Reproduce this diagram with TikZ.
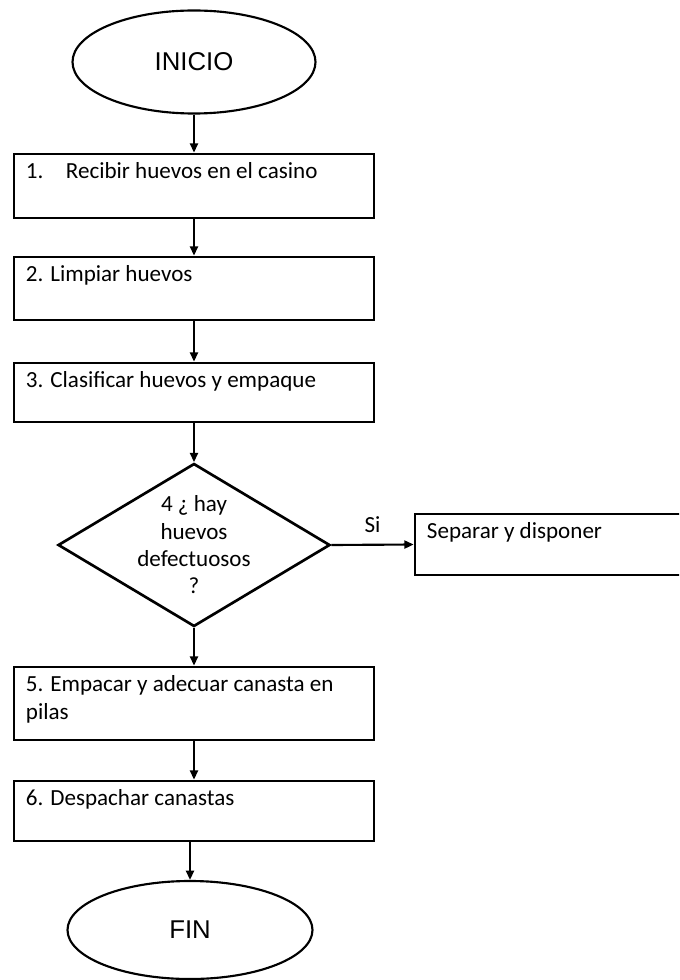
\documentclass[tikz,border=0pt]{standalone}
\usepackage{fontspec}
\setmainfont{Carlito}
\newfontfamily\arialfont{Liberation Sans}
\usetikzlibrary{arrows.meta,positioning,shapes.geometric}

\tikzset{
  paso/.style={draw, line width=2pt, minimum width=270pt, inner sep=0pt},
  txt/.style={anchor=north west, inner xsep=9.75pt, inner ysep=7.5pt, align=left},
  terminal/.style={draw, ellipse, line width=1.6pt, inner sep=0pt,
    font=\arialfont\fontsize{19.3}{23}\selectfont},
  flecha/.style={line width=1.6pt, -{Triangle[length=7pt,width=6pt]}},
}

\begin{document}
\begin{tikzpicture}[x=0.75pt, y=-0.75pt, font=\fontsize{17.3}{20.5}\selectfont]
  \clip (0,0) rectangle (679,980);
  % inicio
  \node[terminal, minimum width=182.25pt, minimum height=77.25pt] (ini) at (194,62) {INICIO};
  % pasos del proceso
  \node[paso, minimum height=48pt,
    label={[txt]north west:{\makebox[30pt][l]{1.}Recibir huevos en el casino}}] (p1) at (194,186) {};
  \node[paso, minimum height=47.25pt,
    label={[txt]north west:{2. Limpiar huevos}}] (p2) at (194,288.5) {};
  \node[paso, minimum height=44.25pt,
    label={[txt]north west:{3. Clasificar huevos y empaque}}] (p3) at (194,392.5) {};
  % decision
  \node[draw, diamond, line width=2pt, minimum width=204pt, minimum height=122.25pt, inner sep=0pt,
    label={[align=center]center:{4 ¿ hay\\huevos\\defectuosos\\?}}] (d4) at (194,545) {};
  \node[paso, minimum width=206.25pt, minimum height=45.75pt,
    label={[txt]north west:{Separar y disponer}}] (sep) at (552.5,544.5) {};
  \node[paso, minimum height=54.75pt,
    label={[txt]north west:{5. Empacar y adecuar canasta en\\pilas}}] (p5) at (194,703.5) {};
  \node[paso, minimum height=45pt,
    label={[txt]north west:{6. Despachar canastas}}] (p6) at (194,811) {};
  % fin
  \node[terminal, minimum width=183.75pt, minimum height=73.5pt] (fin) at (190,930) {FIN};

  \draw[flecha] (ini.south) -- (ini.south |- p1.north);
  \draw[flecha] (p1) -- (p2);
  \draw[flecha] (p2) -- (p3);
  \draw[flecha] (p3) -- (d4);
  \draw[flecha] (d4.east) -- node[above, yshift=5pt] {Si} (sep.west);
  \draw[flecha] (d4) -- (p5);
  \draw[flecha] (p5) -- (p6);
  \draw[flecha] (fin.north |- p6.south) -- (fin.north);
\end{tikzpicture}
\end{document}
